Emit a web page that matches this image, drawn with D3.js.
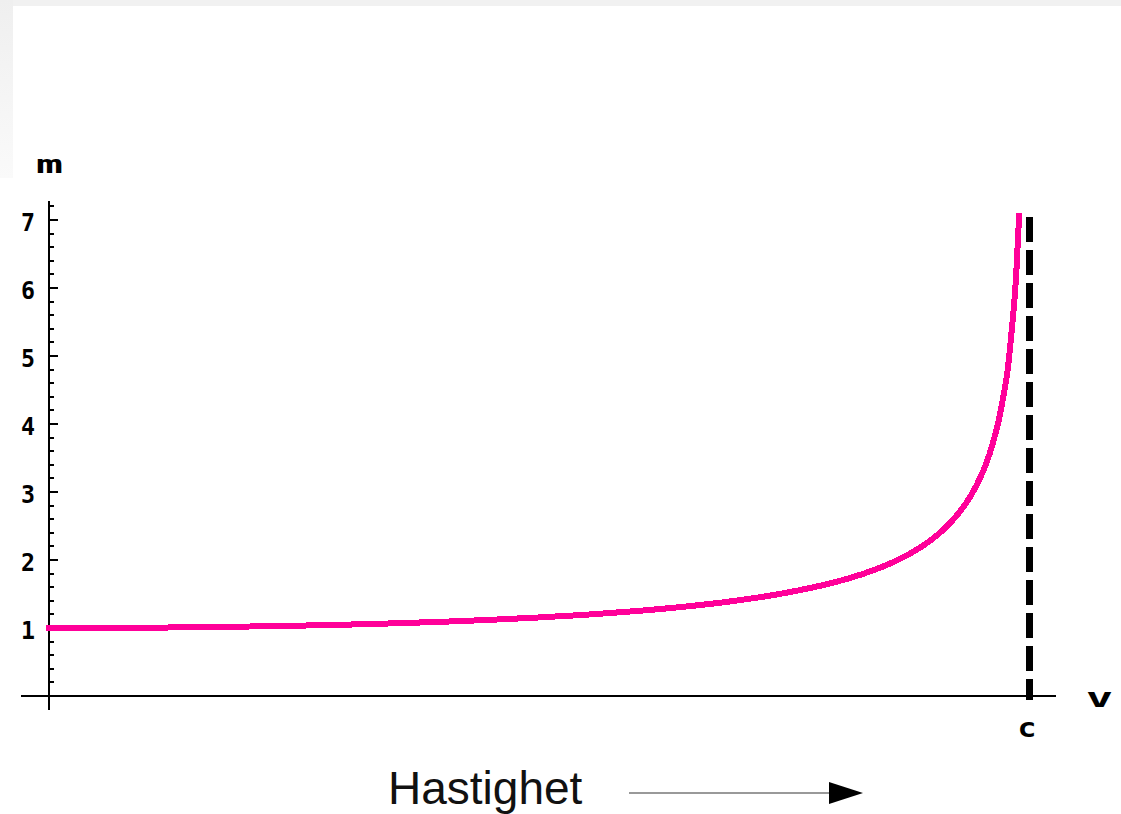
<!DOCTYPE html>
<html>
<head>
<meta charset="utf-8">
<script src="https://cdn.jsdelivr.net/npm/d3@7"></script>
<style>
  html, body { margin: 0; padding: 0; background: #fff; }
  svg { display: block; }
  .tick-label, .axis-name { font-family: "DejaVu Sans Mono", monospace; font-weight: bold; fill: #000; }
</style>
</head>
<body>
<script>
// Relativistic mass m (in units of rest mass) against speed v (in units of c)
const velocity = [0, 0.05, 0.1, 0.15, 0.2, 0.25, 0.3, 0.35, 0.4, 0.45, 0.5, 0.55, 0.6, 0.65, 0.7,
  0.75, 0.8, 0.82, 0.84, 0.86, 0.88, 0.9, 0.91, 0.92, 0.93, 0.94, 0.95, 0.955, 0.96, 0.965,
  0.97, 0.975, 0.978, 0.98, 0.982, 0.985, 0.987, 0.9899];
const mass = [1.000, 1.001, 1.005, 1.011, 1.021, 1.033, 1.048, 1.068, 1.091, 1.120, 1.155, 1.197,
  1.250, 1.316, 1.400, 1.512, 1.667, 1.747, 1.843, 1.960, 2.105, 2.294, 2.412, 2.552, 2.721,
  2.931, 3.203, 3.370, 3.571, 3.820, 4.113, 4.502, 4.770, 5.025, 5.320, 5.795, 6.210, 7.06];

const yTickValues = [1, 2, 3, 4, 5, 6, 7];
const yMinorTicks = d3.range(1, 37).map(i => i / 5);   // every 0.2 up to 7.2
const xTickLabels = [{ v: 1, label: "c" }];
const asymptoteTop = 7.05;
const axisNames = { y: "m", x: "v" };
const caption = "Hastighet";

const W = 1121, H = 814;
const svg = d3.select("body").append("svg").attr("width", W).attr("height", H);

// light grey frame on the top and left edges
const defs = svg.append("defs");
const grad = defs.append("linearGradient").attr("id", "edgeFade").attr("x1", 0).attr("y1", 0).attr("x2", 0).attr("y2", 1);
grad.append("stop").attr("offset", 0).attr("stop-color", "#efefef");
grad.append("stop").attr("offset", 1).attr("stop-color", "#fafafa");
svg.append("rect").attr("x", 0).attr("y", 0).attr("width", W).attr("height", 6).attr("fill", "#f1f1f1");
svg.append("rect").attr("x", 0).attr("y", 0).attr("width", 13).attr("height", 178).attr("fill", "url(#edgeFade)");

const x = d3.scaleLinear().domain([0, 1]).range([49, 1029]);
const y = d3.scaleLinear().domain([0, 7.28]).range([696, 201]);

const g = svg.append("g").attr("shape-rendering", "crispEdges");

// axes lines
g.append("line").attr("x1", x(-0.0286)).attr("x2", x(1.0276)).attr("y1", y(0)).attr("y2", y(0))
  .attr("stroke", "#000").attr("stroke-width", 2);
g.append("line").attr("x1", x(0)).attr("x2", x(0)).attr("y1", y(7.28)).attr("y2", y(0) + 14)
  .attr("stroke", "#000").attr("stroke-width", 2);

// y ticks: long on whole numbers, short on the fifths
g.selectAll("line.ytick").data(yMinorTicks).join("line")
  .attr("class", "ytick")
  .attr("x1", x(0)).attr("x2", d => x(0) + (Math.abs(d - Math.round(d)) < 1e-9 ? 9 : 5))
  .attr("y1", d => Math.round(y(d))).attr("y2", d => Math.round(y(d)))
  .attr("stroke", "#000").attr("stroke-width", 2);

svg.selectAll("text.ylab").data(yTickValues).join("text")
  .attr("class", "tick-label ylab")
  .attr("x", 35).attr("y", d => y(d) + 2)
  .attr("text-anchor", "end").attr("dominant-baseline", "central")
  .attr("font-size", 25)
  .attr("textLength", 14).attr("lengthAdjust", "spacingAndGlyphs")
  .text(d => d);

// axis names
svg.append("text").attr("class", "axis-name").attr("x", 36).attr("y", 173)
  .attr("font-size", 25).attr("textLength", 27).attr("lengthAdjust", "spacingAndGlyphs")
  .text(axisNames.y);
svg.append("text").attr("class", "axis-name").attr("x", 1086).attr("y", 707)
  .attr("font-size", 26).attr("textLength", 27).attr("lengthAdjust", "spacingAndGlyphs")
  .text(axisNames.x);

svg.selectAll("text.xlab").data(xTickLabels).join("text")
  .attr("class", "tick-label xlab")
  .attr("x", d => x(d.v) - 2).attr("y", 737)
  .attr("text-anchor", "middle").attr("font-size", 26)
  .attr("textLength", 19).attr("lengthAdjust", "spacingAndGlyphs")
  .text(d => d.label);

// asymptote at v = c
g.append("line")
  .attr("x1", x(1)).attr("x2", x(1))
  .attr("y1", y(asymptoteTop)).attr("y2", y(0) + 4)
  .attr("stroke", "#000").attr("stroke-width", 7)
  .attr("stroke-dasharray", "25 8");

// mass curve
const pts = velocity.map((v, i) => [v, mass[i]]);
const line = d3.line().x(d => x(d[0])).y(d => y(d[1])).curve(d3.curveMonotoneX);
g.append("path").attr("d", line(pts))
  .attr("fill", "none").attr("stroke", "#ff0099").attr("stroke-width", 6)
  .attr("stroke-linecap", "square");

// caption with arrow
svg.append("text").attr("x", 388).attr("y", 804)
  .attr("font-family", "'Liberation Sans', Arial, sans-serif").attr("font-size", 46)
  .attr("fill", "#111").text(caption);
svg.append("line").attr("x1", 629).attr("x2", 832).attr("y1", 793).attr("y2", 793)
  .attr("stroke", "#777").attr("stroke-width", 1.6);
svg.append("path")
  .attr("d", d3.line()([[829, 782], [863, 793], [829, 804]]) + "Z")
  .attr("fill", "#000");
</script>
</body>
</html>
